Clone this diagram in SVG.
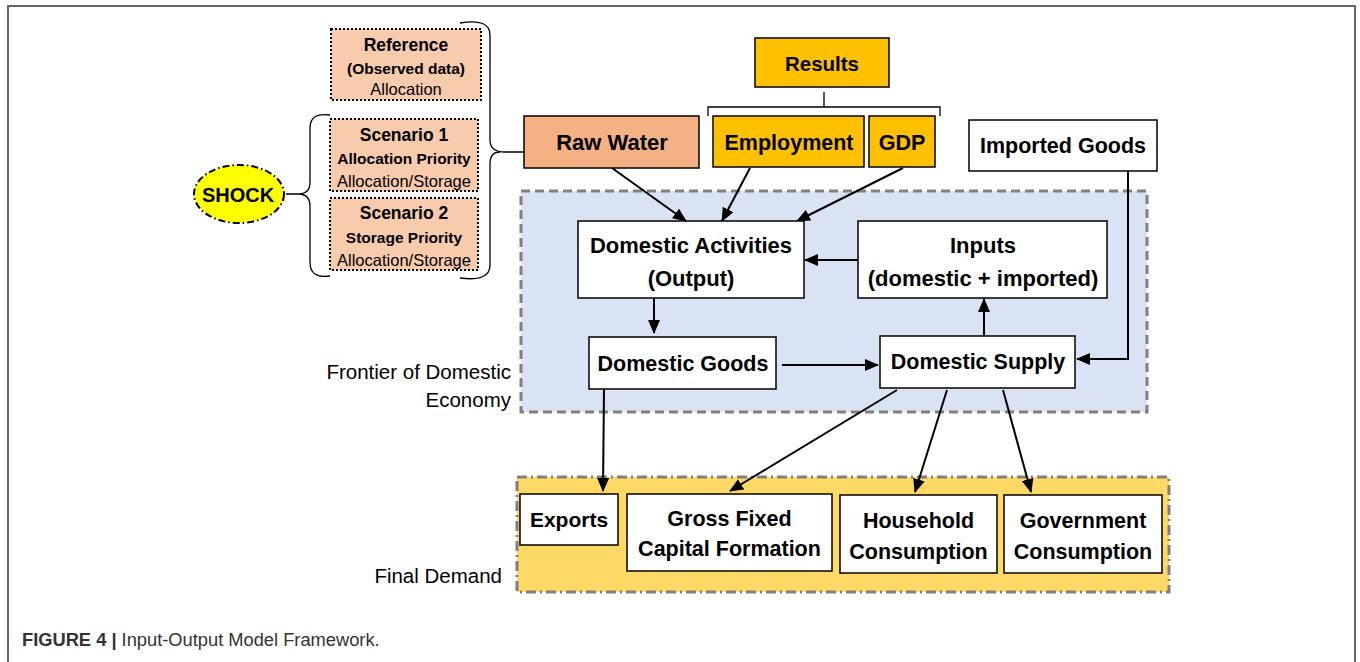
<svg xmlns="http://www.w3.org/2000/svg" width="1360" height="662" viewBox="0 0 1360 662">
<defs>
<marker id="ah" markerUnits="userSpaceOnUse" markerWidth="14" markerHeight="12" refX="13" refY="6" orient="auto">
<path d="M0,0 L14,6 L0,12 Z" fill="#000"/>
</marker>
<style>
.b{font-family:"Liberation Sans",Arial,sans-serif;font-weight:bold;fill:#000;text-anchor:middle}
.r{font-family:"Liberation Sans",Arial,sans-serif;fill:#000;text-anchor:middle}
.box{fill:#fff;stroke:#000;stroke-width:1.5}
.dot{fill:#f8cbad;stroke:#000;stroke-width:2;stroke-dasharray:2 2}
.ln{fill:none;stroke:#000;stroke-width:2}
.br{fill:none;stroke:#000;stroke-width:1.3}
.lab{font-family:"Liberation Sans",Arial,sans-serif;fill:#000;text-anchor:end;font-size:20.5px}
</style>
</defs>
<rect width="1360" height="662" fill="#fff"/>
<path d="M8,662 V6 H1355 V662" fill="none" stroke="#666" stroke-width="2"/>

<g id="frontier">
<rect x="521" y="191" width="626" height="221" fill="#dae3f3" stroke="#808080" stroke-width="3" stroke-dasharray="9 5"/>
<text class="lab" x="511" y="379">Frontier of Domestic</text>
<text class="lab" x="511" y="407">Economy</text>
</g>
<g id="finaldemand">
<rect x="517" y="477" width="652" height="115" fill="#ffd966" stroke="#808080" stroke-width="3" stroke-dasharray="10 4 2 4"/>
<text class="lab" x="502" y="583">Final Demand</text>
</g>

<g id="connectors">
<path class="br" d="M460,23 Q490,18 490,35 V140 Q490,152 505,152 H524 M490,164 Q490,152 500,152 M490,164 V265 Q490,282 460,278"/>
<path class="br" d="M330,115 Q310,112 310,128 V182 Q310,194 298,194 H286 M298,194 Q310,194 310,206 V262 Q310,279 330,276"/>
<path class="br" d="M708,116 V107 H940 V116 M824,107 V92"/>
<line class="ln" x1="612" y1="168" x2="686" y2="221" marker-end="url(#ah)"/>
<line class="ln" x1="750" y1="168" x2="722" y2="221" marker-end="url(#ah)"/>
<line class="ln" x1="903" y1="168" x2="797" y2="221" marker-end="url(#ah)"/>
<line class="ln" x1="858" y1="260" x2="805" y2="260" marker-end="url(#ah)"/>
<line class="ln" x1="654" y1="298" x2="654" y2="333" marker-end="url(#ah)"/>
<line class="ln" x1="782" y1="365" x2="878" y2="365" marker-end="url(#ah)"/>
<line class="ln" x1="984" y1="336" x2="984" y2="299" marker-end="url(#ah)"/>
<path class="ln" d="M1128,171 V359 H1077" marker-end="url(#ah)"/>
<line class="ln" x1="604" y1="389" x2="603" y2="491" marker-end="url(#ah)"/>
<line class="ln" x1="897" y1="390" x2="730" y2="491" marker-end="url(#ah)"/>
<line class="ln" x1="947" y1="390" x2="915" y2="492" marker-end="url(#ah)"/>
<line class="ln" x1="1003" y1="390" x2="1031" y2="492" marker-end="url(#ah)"/>
</g>

<g id="shock">
<ellipse cx="239" cy="194" rx="45" ry="29" fill="#ffff00" stroke="#000" stroke-width="2" stroke-dasharray="7 3 1.5 3"/>
<text class="b" x="238" y="202" font-size="20">SHOCK</text>
</g>
<g id="reference">
<rect class="dot" x="331" y="29" width="150" height="71"/>
<text class="b" x="406" y="51" font-size="17.5">Reference</text>
<text class="b" x="406" y="74" font-size="15.5">(Observed data)</text>
<text class="r" x="406" y="95" font-size="16.5">Allocation</text>
</g>
<g id="scenario1">
<rect class="dot" x="330" y="119" width="148" height="72"/>
<text class="b" x="404" y="141" font-size="17.5">Scenario 1</text>
<text class="b" x="404" y="164" font-size="15.5">Allocation Priority</text>
<text class="r" x="404" y="187" font-size="16.5">Allocation/Storage</text>
</g>
<g id="scenario2">
<rect class="dot" x="330" y="198" width="148" height="72"/>
<text class="b" x="404" y="219" font-size="17.5">Scenario 2</text>
<text class="b" x="404" y="243" font-size="15.5">Storage Priority</text>
<text class="r" x="404" y="266" font-size="16.5">Allocation/Storage</text>
</g>
<g id="rawwater">
<rect x="524" y="116" width="175" height="52" fill="#f4b183" stroke="#000" stroke-width="1.5"/>
<text class="b" x="612" y="150" font-size="22">Raw Water</text>
</g>
<g id="results">
<rect x="755" y="38" width="134" height="49" fill="#ffc000" stroke="#000" stroke-width="1.5"/>
<text class="b" x="822" y="71" font-size="20.5">Results</text>
</g>
<g id="employment">
<rect x="713" y="116" width="151" height="51" fill="#ffc000" stroke="#000" stroke-width="1.5"/>
<text class="b" x="789" y="150" font-size="21.5">Employment</text>
</g>
<g id="gdp">
<rect x="869" y="116" width="66" height="51" fill="#ffc000" stroke="#000" stroke-width="1.5"/>
<text class="b" x="902" y="150" font-size="21.5">GDP</text>
</g>
<g id="imported">
<rect class="box" x="969" y="120" width="188" height="51"/>
<text class="b" x="1063" y="153" font-size="21.5">Imported Goods</text>
</g>
<g id="domact">
<rect class="box" x="578" y="221" width="226" height="77"/>
<text class="b" x="691" y="253" font-size="22">Domestic Activities</text>
<text class="b" x="691" y="286" font-size="22">(Output)</text>
</g>
<g id="inputs">
<rect class="box" x="858" y="221" width="249" height="77"/>
<text class="b" x="983" y="253" font-size="22">Inputs</text>
<text class="b" x="983" y="286" font-size="22">(domestic + imported)</text>
</g>
<g id="domgoods">
<rect class="box" x="589" y="337" width="187" height="52"/>
<text class="b" x="683" y="371" font-size="21.5">Domestic Goods</text>
</g>
<g id="domsupply">
<rect class="box" x="880" y="336" width="195" height="52"/>
<text class="b" x="978" y="369" font-size="21.5">Domestic Supply</text>
</g>
<g id="exports">
<rect class="box" x="520" y="494" width="98" height="51"/>
<text class="b" x="569" y="527" font-size="21">Exports</text>
</g>
<g id="gfcf">
<rect class="box" x="627" y="494" width="205" height="77"/>
<text class="b" x="729.5" y="526" font-size="21.5">Gross Fixed</text>
<text class="b" x="729.5" y="556" font-size="21.5">Capital Formation</text>
</g>
<g id="household">
<rect class="box" x="840" y="495" width="157" height="78"/>
<text class="b" x="918.5" y="528" font-size="21.5">Household</text>
<text class="b" x="918.5" y="559" font-size="21.5">Consumption</text>
</g>
<g id="government">
<rect class="box" x="1004" y="495" width="158" height="78"/>
<text class="b" x="1083" y="528" font-size="21.5">Government</text>
<text class="b" x="1083" y="559" font-size="21.5">Consumption</text>
</g>

<g id="caption">
<text x="22" y="646" font-family="'Liberation Sans',Arial,sans-serif" font-size="18.3" fill="#333"><tspan font-weight="bold">FIGURE 4 | </tspan>Input-Output Model Framework.</text>
</g>
</svg>
